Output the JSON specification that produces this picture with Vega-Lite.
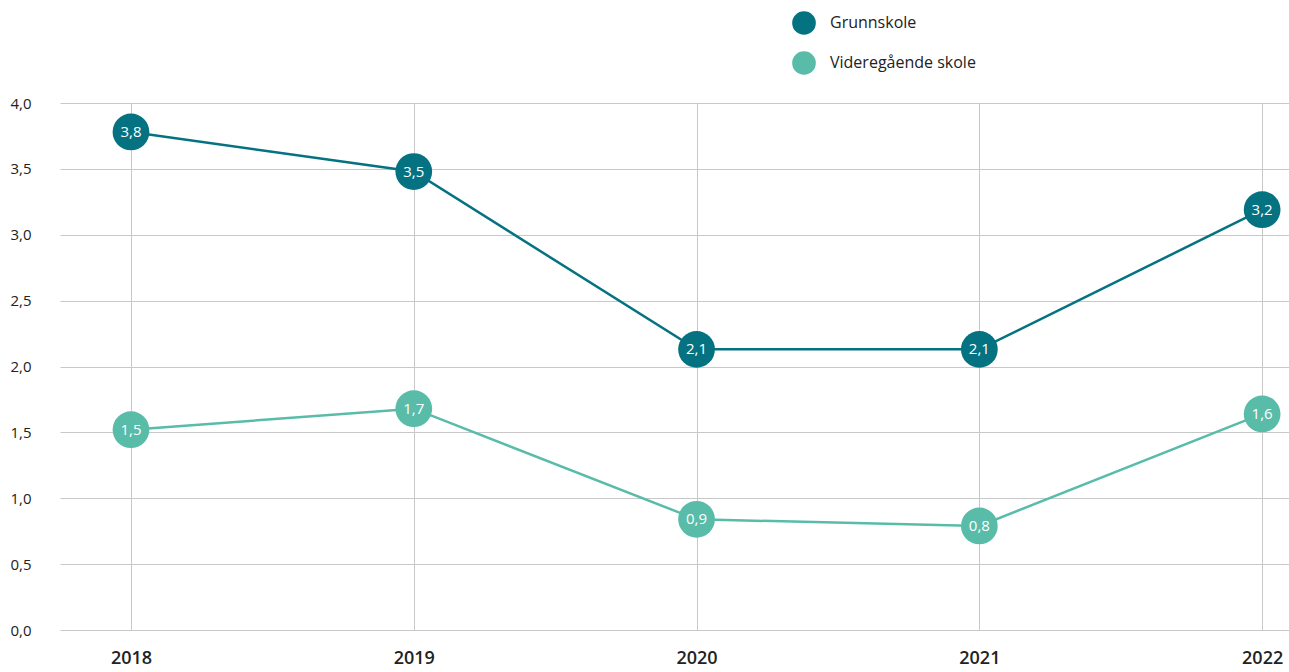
{
  "$schema": "https://vega.github.io/schema/vega-lite/v6.json",
  "width": 1229,
  "height": 527,
  "padding": {"left": 60, "top": 103, "right": 0, "bottom": 42},
  "autosize": {"type": "none"},
  "background": "white",
  "config": {
    "view": {"stroke": null},
    "font": "Open Sans"
  },
  "data": {
    "values": [
      {"year": 2018, "series": "Grunnskole", "value": 3.78, "label": "3,8"},
      {"year": 2019, "series": "Grunnskole", "value": 3.48, "label": "3,5"},
      {"year": 2020, "series": "Grunnskole", "value": 2.13, "label": "2,1"},
      {"year": 2021, "series": "Grunnskole", "value": 2.13, "label": "2,1"},
      {"year": 2022, "series": "Grunnskole", "value": 3.19, "label": "3,2"},
      {"year": 2018, "series": "Videregående skole", "value": 1.52, "label": "1,5"},
      {"year": 2019, "series": "Videregående skole", "value": 1.68, "label": "1,7"},
      {"year": 2020, "series": "Videregående skole", "value": 0.84, "label": "0,9"},
      {"year": 2021, "series": "Videregående skole", "value": 0.79, "label": "0,8"},
      {"year": 2022, "series": "Videregående skole", "value": 1.64, "label": "1,6"}
    ]
  },
  "encoding": {
    "x": {
      "field": "year",
      "type": "quantitative",
      "scale": {"domain": [2017.749, 2022.095], "nice": false, "zero": false},
      "axis": {
        "title": null,
        "values": [2018, 2019, 2020, 2021, 2022],
        "format": "d",
        "domain": false,
        "ticks": false,
        "grid": true,
        "gridColor": "#c8c8c8",
        "gridWidth": 1,
        "labelFontSize": 18,
        "labelFontWeight": 600,
        "labelColor": "#222222",
        "labelPadding": 19
      }
    },
    "y": {
      "field": "value",
      "type": "quantitative",
      "scale": {"domain": [0, 4], "nice": false},
      "axis": {
        "title": null,
        "values": [0, 0.5, 1, 1.5, 2, 2.5, 3, 3.5, 4],
        "labelExpr": "replace(format(datum.value, '.1f'), '.', ',')",
        "domain": false,
        "ticks": false,
        "grid": true,
        "gridColor": "#c8c8c8",
        "gridWidth": 1,
        "labelFontSize": 15,
        "labelFontWeight": 500,
        "labelColor": "#222222",
        "labelAlign": "left",
        "labelPadding": 50
      }
    }
  },
  "resolve": {"legend": {"color": "independent"}},
  "layer": [
    {
      "mark": {"type": "line", "strokeWidth": 2.5},
      "encoding": {
        "color": {
          "field": "series",
          "type": "nominal",
          "scale": {"domain": ["Grunnskole", "Videregående skole"], "range": ["#047281", "#58bca9"]},
          "legend": null
        }
      }
    },
    {
      "mark": {"type": "circle", "size": 1350, "opacity": 1},
      "encoding": {
        "color": {
          "field": "series",
          "type": "nominal",
          "scale": {"domain": ["Grunnskole", "Videregående skole"], "range": ["#047281", "#58bca9"]},
          "legend": {
            "title": null,
            "orient": "none",
            "legendX": 732,
            "legendY": -92,
            "symbolType": "circle",
            "symbolSize": 560,
            "symbolOpacity": 1,
            "labelFontSize": 16,
            "labelFontWeight": 500,
            "labelColor": "#222222",
            "labelOffset": 14,
            "rowPadding": 16,
            "symbolStrokeWidth": 0
          }
        }
      }
    },
    {
      "mark": {"type": "text", "color": "white", "fontSize": 15, "font": "Open Sans", "fontWeight": 500},
      "encoding": {
        "text": {"field": "label"}
      }
    }
  ]
}
